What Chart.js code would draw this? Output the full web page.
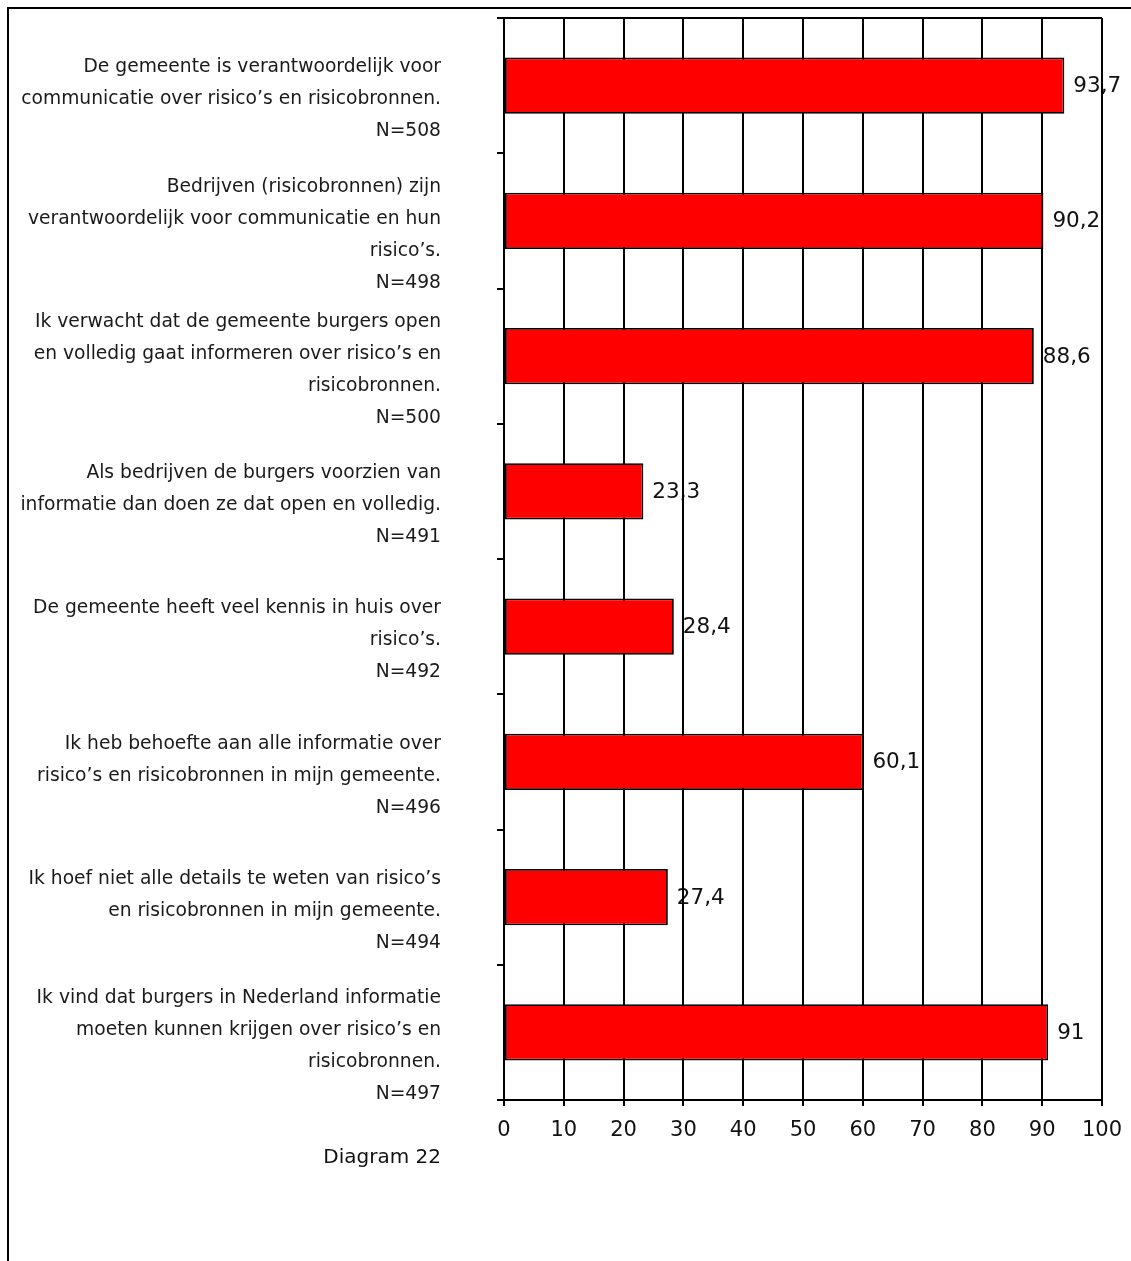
<!DOCTYPE html>
<html>
<head>
<meta charset="utf-8">
<script src="https://cdn.jsdelivr.net/npm/chart.js@4"></script>
<style>
  body { margin: 0; background: #fff; }
  #wrap { position: relative; width: 1131px; height: 1261px; }
  #frame { position: absolute; left: 7px; top: 7px; right: 0; bottom: 0; border-top: 2px solid #000; border-left: 2px solid #000; }
  #chart { position: absolute; left: 0; top: 0; }
  #caption { position: absolute; right: 690px; top: 1144px; font: 20px "DejaVu Sans", sans-serif; color: #111; }
</style>
</head>
<body>
<div id="wrap">
  <div id="frame"></div>
  <canvas id="chart" width="1131" height="1261"></canvas>
  <div id="caption">Diagram 22</div>
</div>
<script>
// Data
const categories = [
    ['De gemeente is verantwoordelijk voor', 'communicatie over risico’s en risicobronnen.', 'N=508'],
    ['Bedrijven (risicobronnen) zijn', 'verantwoordelijk voor communicatie en hun', 'risico’s.', 'N=498'],
    ['Ik verwacht dat de gemeente burgers open', 'en volledig gaat informeren over risico’s en', 'risicobronnen.', 'N=500'],
    ['Als bedrijven de burgers voorzien van', 'informatie dan doen ze dat open en volledig.', 'N=491'],
    ['De gemeente heeft veel kennis in huis over', 'risico’s.', 'N=492'],
    ['Ik heb behoefte aan alle informatie over', 'risico’s en risicobronnen in mijn gemeente.', 'N=496'],
    ['Ik hoef niet alle details te weten van risico’s', 'en risicobronnen in mijn gemeente.', 'N=494'],
    ['Ik vind dat burgers in Nederland informatie', 'moeten kunnen krijgen over risico’s en', 'risicobronnen.', 'N=497']
];
const values = [93.7, 90.2, 88.6, 23.3, 28.4, 60.1, 27.4, 91];
const xMin = 0;
const xMax = 100;
const xStep = 10;

const font = '"DejaVu Sans", Verdana, sans-serif';

// value labels drawn before the grid, so gridlines cross them like in the original
const valueLabels = {
    id: 'valueLabels',
    beforeDraw(chart) {
        const ctx = chart.ctx;
        const meta = chart.getDatasetMeta(0);
        ctx.save();
        ctx.font = '21.5px ' + font;
        ctx.fillStyle = '#111';
        ctx.textAlign = 'left';
        ctx.textBaseline = 'middle';
        meta.data.forEach((bar, i) => {
            const txt = String(values[i]).replace('.', ',');
            ctx.fillText(txt, bar.x + 9, bar.y + 1);
        });
        ctx.restore();
    }
};

new Chart(document.getElementById('chart'), {
    type: 'bar',
    data: {
        labels: categories,
        datasets: [{
            data: values,
            backgroundColor: '#ff0000',
            borderColor: '#000',
            borderWidth: 1.8,
            borderSkipped: false,
            categoryPercentage: 1,
            barPercentage: 0.415
        }]
    },
    options: {
        indexAxis: 'y',
        responsive: false,
        animation: false,
        devicePixelRatio: 1,
        layout: { padding: { top: 18, right: 29, left: 0, bottom: 0 } },
        plugins: {
            legend: { display: false },
            tooltip: { enabled: false }
        },
        scales: {
            x: {
                min: xMin,
                max: xMax,
                afterFit: s => {
                    s.height = 161;
                    s.paddingLeft = 0;
                    s.paddingRight = 0;
                },
                ticks: {
                    stepSize: xStep,
                    color: '#111',
                    padding: 12,
                    font: { family: font, size: 21 }
                },
                grid: {
                    color: '#000',
                    lineWidth: 2,
                    tickColor: '#000',
                    tickLength: 6
                },
                border: { color: '#000', width: 2 }
            },
            y: {
                afterFit: s => {
                    s.width = 504;
                    s.paddingTop = 0;
                    s.paddingBottom = 0;
                },
                ticks: {
                    autoSkip: false,
                    color: '#1a1a1a',
                    padding: 56,
                    labelOffset: 14,
                    font: { family: font, size: 18.7, lineHeight: '32px' }
                },
                grid: {
                    offset: true,
                    color: c => c.index === 0 ? '#000' : 'rgba(0,0,0,0)',
                    lineWidth: 2,
                    tickColor: '#000',
                    tickLength: 7
                },
                border: { color: '#000', width: 2 }
            }
        }
    },
    plugins: [valueLabels]
});
</script>
</body>
</html>
